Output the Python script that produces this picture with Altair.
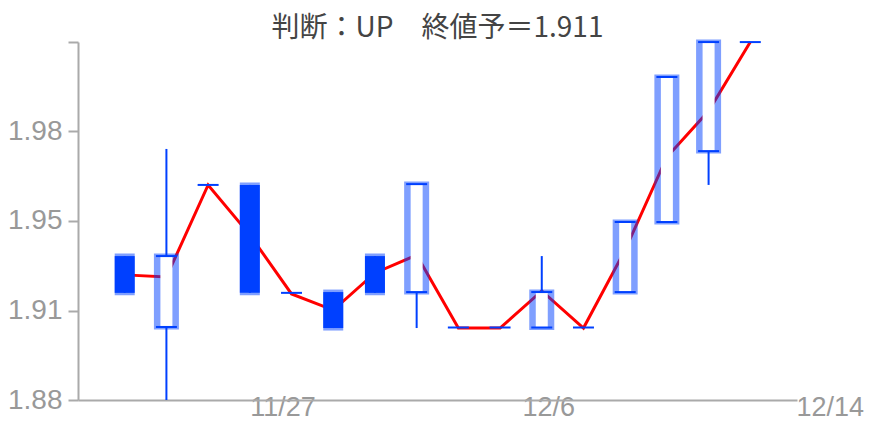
import altair as alt
import pandas as pd

# ---- data ----
idx = list(range(16))
opens  = [1.9336, 1.9072, 1.9601, 1.9601, 1.9199, 1.9202, 1.9336, 1.9202, 1.9070, 1.9070, 1.9070, 1.9070, 1.9202, 1.9463, 1.9727, 2.0133]
closes = [1.9199, 1.9336, 1.9601, 1.9199, 1.9199, 1.9068, 1.9199, 1.9604, 1.9070, 1.9070, 1.9202, 1.9070, 1.9463, 2.0003, 2.0133, 2.0133]
highs  = [1.9336, 1.9735, 1.9601, 1.9601, 1.9199, 1.9202, 1.9336, 1.9604, 1.9070, 1.9070, 1.9336, 1.9070, 1.9463, 2.0003, 2.0133, 2.0133]
lows   = [1.9199, 1.8800, 1.9601, 1.9199, 1.9199, 1.9068, 1.9199, 1.9068, 1.9070, 1.9070, 1.9070, 1.9070, 1.9202, 1.9463, 1.9601, 2.0133]
line   = [1.9266, 1.9258, 1.9601, 1.9415, 1.9195, 1.9135, 1.9273, 1.9340, 1.9068, 1.9068, 1.9206, 1.9068, 1.9359, 1.9705, 1.9876, 2.0133]

x_tick_pos = [2.9, 9.43, 16.0]
x_tick_labels = ["11/27", "12/6", "12/14"]
y_tick_vals = [1.88, 1.91333, 1.94667, 1.98, 2.01333]
title_text = "判断：UP　終値予＝1.911"

DARK = "#0040ff"
LABEL_FONT = "Liberation Sans"

rows = []
for i, o, c, h, l, m in zip(idx, opens, closes, highs, lows, line):
    kind = "up" if c > o else ("down" if c < o else "doji")
    rows.append(dict(i=i, open=o, close=c, high=h, low=l, line=m,
                     top=max(o, c), bot=min(o, c), kind=kind))
df = pd.DataFrame(rows)

label_expr = " : ".join(
    f"datum.value < {p + 0.01} ? '{t}'" for p, t in zip(x_tick_pos[:-1], x_tick_labels[:-1])
) + f" : '{x_tick_labels[-1]}'"

xs = alt.Scale(domain=[-1, 16], nice=False, zero=False)
ys = alt.Scale(domain=[1.88, 2.01333], nice=False, zero=False)

x_axis = alt.Axis(values=x_tick_pos, labelExpr=label_expr, ticks=False, grid=False,
                  domainColor="#aaaaaa", domainWidth=2, labelAlign="left", labelBaseline="top",
                  labelOffset=4, labelPadding=-6, labelFlush=False, labelOverlap=False,
                  labelFont=LABEL_FONT, labelFontSize=27, labelColor="#999999", title=None)
y_axis = alt.Axis(values=y_tick_vals, labelExpr="datum.value > 2 ? '' : format(datum.value, '.2f')",
                  grid=False, tickSize=10, tickWidth=2, tickColor="#aaaaaa",
                  domainColor="#aaaaaa", domainWidth=2, labelPadding=6,
                  labelFont=LABEL_FONT, labelFontSize=28, labelColor="#999999", title=None)

base = alt.Chart(df)

red = base.mark_line(color="#ff0000", strokeWidth=3).encode(
    x=alt.X("i:Q", scale=xs, axis=x_axis), y=alt.Y("line:Q", scale=ys, axis=y_axis))

wick = base.mark_rule(color=DARK, strokeWidth=2).encode(
    x=alt.X("i:Q", scale=xs), y=alt.Y("low:Q", scale=ys), y2="high:Q")

up = base.transform_filter("datum.kind == 'up'")
down = base.transform_filter("datum.kind == 'down'")
doji = base.transform_filter("datum.kind == 'doji'")

up_outer = up.mark_bar(color=DARK, opacity=0.5, size=25, yOffset=-2.5, y2Offset=2.5, orient="vertical").encode(
    x=alt.X("i:Q", scale=xs), y=alt.Y("top:Q", scale=ys), y2="bot:Q")
up_inner = up.mark_bar(color="#ffffff", size=12, orient="vertical").encode(
    x=alt.X("i:Q", scale=xs), y=alt.Y("top:Q", scale=ys), y2="bot:Q")
up_t1 = up.mark_tick(color=DARK, orient="horizontal", size=21, thickness=2, opacity=1).encode(
    x=alt.X("i:Q", scale=xs), y=alt.Y("top:Q", scale=ys))
up_t2 = up.mark_tick(color=DARK, orient="horizontal", size=21, thickness=2, opacity=1).encode(
    x=alt.X("i:Q", scale=xs), y=alt.Y("bot:Q", scale=ys))

dn_outer = down.mark_bar(color=DARK, opacity=0.5, size=20, yOffset=-2.5, y2Offset=2.5, orient="vertical").encode(
    x=alt.X("i:Q", scale=xs), y=alt.Y("top:Q", scale=ys), y2="bot:Q")
dn_inner = down.mark_bar(color=DARK, size=20, orient="vertical").encode(
    x=alt.X("i:Q", scale=xs), y=alt.Y("top:Q", scale=ys), y2="bot:Q")

dj = doji.mark_tick(color=DARK, orient="horizontal", size=21, thickness=2, opacity=1).encode(
    x=alt.X("i:Q", scale=xs), y=alt.Y("top:Q", scale=ys))

title_df = pd.DataFrame({"t": [title_text]})
title = alt.Chart(title_df).mark_text(font="Noto Sans CJK JP", fontSize=28, color="#444444",
                                      align="center", baseline="alphabetic").encode(
    x=alt.value(359.5), y=alt.value(-5), text="t:N")

chart = alt.layer(red, wick, up_outer, up_inner, up_t1, up_t2, dn_outer, dn_inner, dj, title).properties(
    width=719, height=358,
    autosize=alt.AutoSizeParams(type="none"),
    padding={"left": 70, "top": 34, "right": 74, "bottom": 19},
).configure(background="white").configure_view(stroke=None, strokeWidth=0)

chart.save("out.html", embed_options={"renderer": "svg", "actions": False})
